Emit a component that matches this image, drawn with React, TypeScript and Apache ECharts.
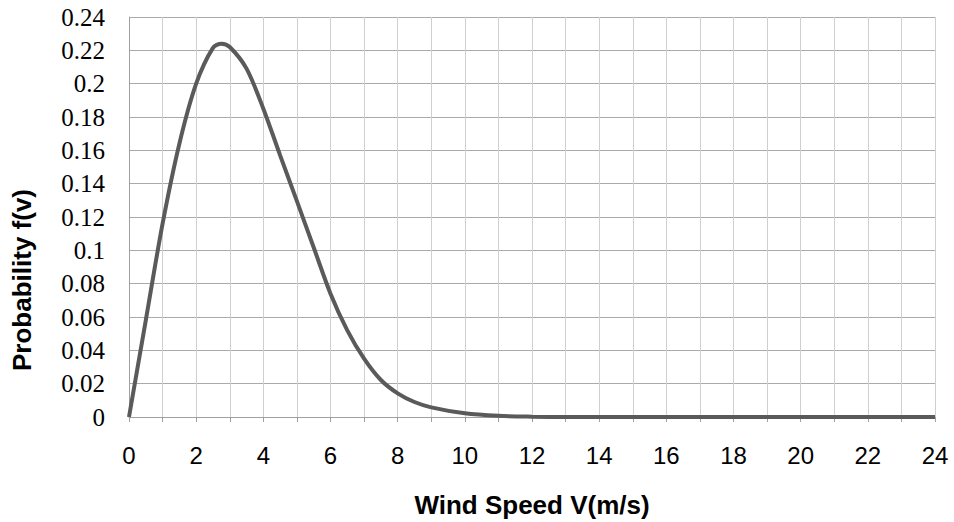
import React, { useEffect, useRef } from "react";
import * as echarts from "echarts";

// Wind speed (m/s) and probability f(v)
const windSpeed = [
  0, 0.5, 1, 1.5, 2, 2.5, 2.75, 3, 3.5, 4, 4.5, 5, 5.5, 6, 6.5, 7, 7.5, 8, 8.5, 9,
  10, 11, 12, 13, 14, 16, 18, 20, 22, 24,
];
const probability = [
  0, 0.058, 0.116, 0.164, 0.2, 0.2215, 0.224, 0.222, 0.209, 0.185, 0.157, 0.1295,
  0.1017, 0.074, 0.052, 0.035, 0.0222, 0.0142, 0.009, 0.0058, 0.0022, 0.0007, 0.0002,
  0, 0, 0, 0, 0, 0, 0,
];

const xTitle = "Wind Speed V(m/s)";
const yTitle = "Probability f(v)";

export default function App() {
  const ref = useRef<HTMLDivElement>(null);

  useEffect(() => {
    if (!ref.current) return;
    const chart = echarts.init(ref.current, undefined, { renderer: "svg" });
    const data = windSpeed.map((x, i) => [x, probability[i]]);
    chart.setOption({
      animation: false,
      backgroundColor: "#ffffff",
      grid: { left: 129, right: 19, top: 17, bottom: 105, containLabel: false },
      xAxis: {
        type: "value",
        min: 0,
        max: 24,
        interval: 1,
        axisLine: { show: true, lineStyle: { color: "#a0a0a0", width: 1 } },
        axisTick: { show: true, length: 5, lineStyle: { color: "#a0a0a0" } },
        axisLabel: {
          margin: 26,
          fontFamily: "'Liberation Sans', Arial, sans-serif",
          fontSize: 24,
          color: "#000",
          formatter: (v: number) => (Math.round(v) % 2 === 0 ? String(Math.round(v)) : ""),
        },
        splitLine: { show: true, lineStyle: { color: "#d0d0d0", width: 1 } },
      },
      yAxis: {
        type: "value",
        min: 0,
        max: 0.24,
        interval: 0.02,
        axisLine: { show: true, lineStyle: { color: "#a0a0a0", width: 1 } },
        axisTick: { show: false },
        axisLabel: {
          margin: 24,
          fontFamily: "'Liberation Serif', 'Times New Roman', serif",
          fontSize: 25,
          color: "#000",
          formatter: (v: number) => String(+v.toFixed(2)),
        },
        splitLine: { show: true, lineStyle: { color: "#aaaaaa", width: 1 } },
      },
      series: [
        {
          type: "line",
          data,
          smooth: 0.3,
          showSymbol: false,
          symbol: "none",
          lineStyle: { color: "#5a5a5a", width: 4, cap: "butt" },
          z: 5,
        },
      ],
      graphic: [
        {
          type: "text",
          x: 532,
          y: 505,
          style: {
            text: xTitle,
            font: "bold 26px 'Liberation Sans', Arial, sans-serif",
            fill: "#000",
            textAlign: "center",
            textVerticalAlign: "middle",
          },
        },
        {
          type: "text",
          x: 22,
          y: 280,
          rotation: Math.PI / 2,
          style: {
            text: yTitle,
            font: "bold 26px 'Liberation Sans', Arial, sans-serif",
            fill: "#000",
            textAlign: "center",
            textVerticalAlign: "middle",
          },
        },
      ],
    });
    return () => chart.dispose();
  }, []);

  return (
    <div
      ref={ref}
      style={{ position: "fixed", left: 0, top: 0, width: 954, height: 522, background: "#fff" }}
    />
  );
}
